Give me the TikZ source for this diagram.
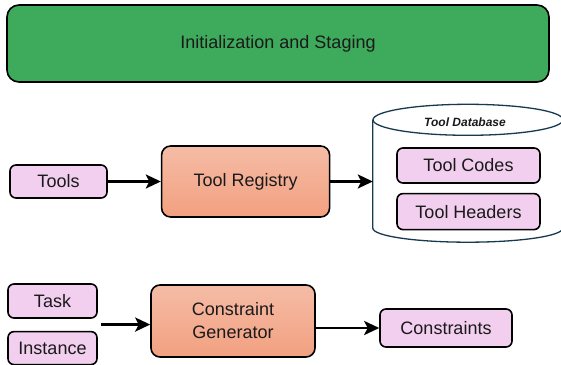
\documentclass[tikz,border=0pt]{standalone}
\usepackage{fontspec}
\setmainfont{Liberation Sans}
\usetikzlibrary{positioning,arrows.meta,calc}

\definecolor{stagegreen}{RGB}{61,170,92}
\definecolor{itemlilac}{RGB}{242,206,239}
\definecolor{proctop}{RGB}{245,188,166}
\definecolor{procbot}{RGB}{242,160,128}
\definecolor{dbedge}{RGB}{24,58,78}
\definecolor{txt}{RGB}{26,26,26}

\begin{document}
\begin{tikzpicture}[%
    x=1pt, y=1pt,                                 % one unit = one pixel of the sketch
    >={Stealth[length=15pt,width=14pt,inset=3.5pt]}, % Arrow heads of the connectors
    node distance=9pt and 53pt,                   % Global setup of box spacing
    ]
% -------------------------------------------------
% A few box styles
\tikzset{
  base/.style={draw, line width=1.6pt, rounded corners=6pt, align=center,
    inner sep=0pt, text=txt, font=\fontsize{18}{23}\selectfont},
  item/.style={base, fill=itemlilac},
  proc/.style={base, top color=proctop, bottom color=procbot, rounded corners=9pt},
  stage/.style={base, fill=stagegreen, rounded corners=12pt},
  % Connector and database line styles
  flow/.style={->, line width=2.7pt},
  dbline/.style={draw=dbedge, line width=1.3pt, fill=white},
  label/.style={font={\fontsize{12}{14}\selectfont\bfseries\itshape}, text=txt}
}
\useasboundingbox (0,0) rectangle (561,364);
% -------------------------------------------------
% Staging band on top
\node [stage, minimum width=542pt, minimum height=77pt] (stage) at (278,320.5)
  {Initialization and Staging};

% -------------------------------------------------
% Tool row
\node [item, minimum width=97pt, minimum height=33pt] (tools) at (58.5,182.5) {Tools};
\node [proc, minimum width=168pt, minimum height=71pt, right=of tools] (reg) {Tool Registry};

% The database: a plain node holds the body, the cylinder is drawn round it
\node [minimum width=190pt, minimum height=108pt, inner sep=0pt] (db) at (468,190) {};
\draw [dbline] (db.north west) -- (db.south west)
  arc [start angle=180, end angle=360, x radius=95pt, y radius=14pt]
  -- (db.north east);
\draw [dbline] (db.north) ellipse [x radius=95pt, y radius=15.5pt];
\node [label] (dbname) at (465,242) {Tool Database};
\node [item, minimum width=143pt, minimum height=35pt] (codes) at (468.5,198.5) {Tool Codes};
\node [item, minimum width=143pt, minimum height=36pt, below=of codes] (headers) {Tool Headers};

\draw [flow] (tools) -- (reg);
\draw [flow] (reg.east) -- (reg.east -| db.west);

% -------------------------------------------------
% Constraint row
\node [item, minimum width=89pt, minimum height=34pt] (task) at (52.5,63) {Task};
\node [item, minimum width=89pt, minimum height=33pt, below=12pt of task] (instance) {Instance};
\node [proc, minimum width=164pt, minimum height=72pt] (gen) at (233,43)
  {Constraint\\Generator};
\node [item, minimum width=132pt, minimum height=38pt] (cons) at (446,36) {Constraints};

\coordinate (inputs) at ($(task.east)!0.5!(instance.east)+(3pt,0)$);
\draw [flow] (inputs) -- (inputs -| gen.west);
\draw [flow] (cons.west -| gen.east) -- (cons.west);

% -------------------------------------------------
\end{tikzpicture}
\end{document}
